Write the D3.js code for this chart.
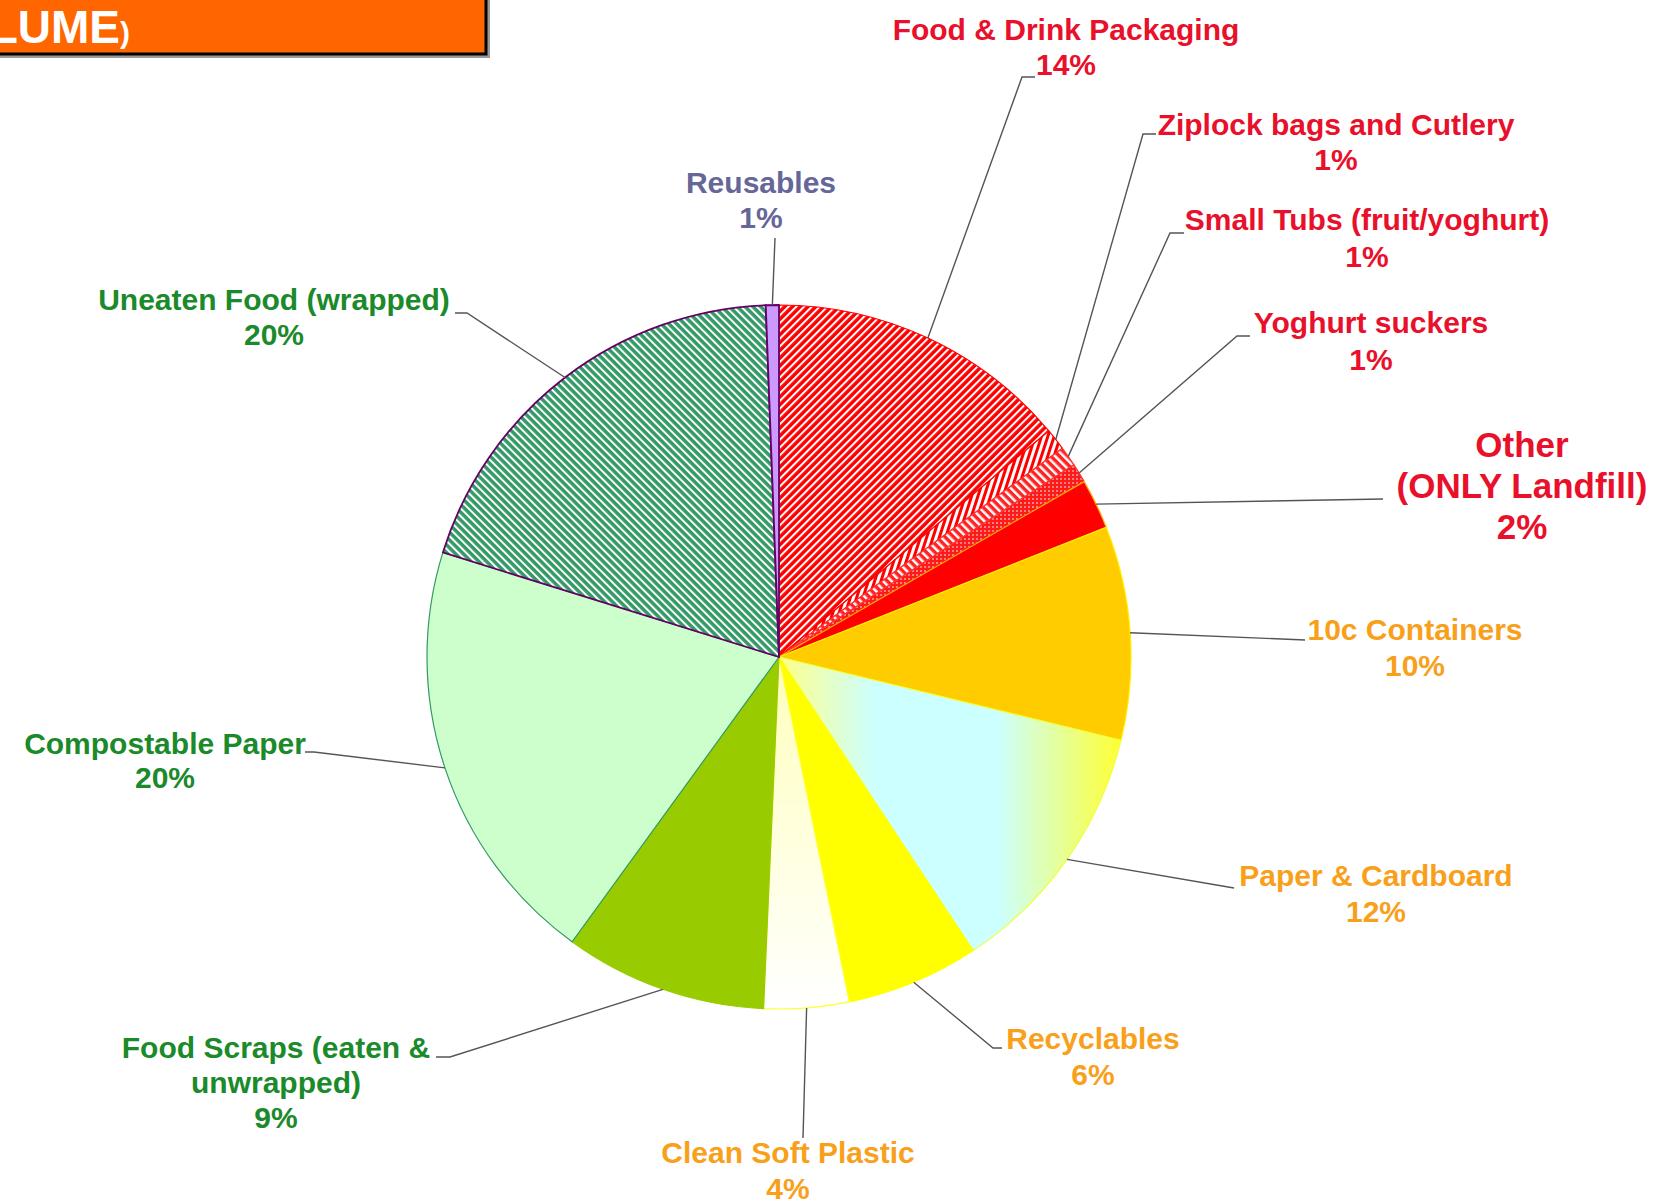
<!DOCTYPE html>
<html>
<head>
<meta charset="utf-8">
<script src="https://cdn.jsdelivr.net/npm/d3@7"></script>
<style>
	body { margin: 0; background: white; }
	text { font-family: "Liberation Sans", Arial, sans-serif; font-weight: bold; }
</style>
</head>
<body>
<div id="viz"></div>
<script>

// Data
var categories = [
	"Food & Drink Packaging",
	"Ziplock bags and Cutlery",
	"Small Tubs (fruit/yoghurt)",
	"Yoghurt suckers",
	"Other\n(ONLY Landfill)",
	"10c Containers",
	"Paper & Cardboard",
	"Recyclables",
	"Clean Soft Plastic",
	"Food Scraps (eaten &\nunwrapped)",
	"Compostable Paper",
	"Uneaten Food (wrapped)",
	"Reusables"
];
var values = [13.9, 1.0, 0.9, 0.9, 2.3, 9.8, 11.9, 6.1, 3.9, 9.3, 19.8, 19.6, 0.6];
var groups = ["landfill", "landfill", "landfill", "landfill", "landfill",
	"recycle", "recycle", "recycle", "recycle",
	"compost", "compost", "compost", "reuse"];
var titleText = "LUME";

// Styles
var textColors = {landfill: "#e8102a", recycle: "#f9a01b", compost: "#1a8a2a", reuse: "#666699"};
var sliceFills = ["url(#hatchRed)", "url(#hatchZip)", "url(#hatchTubs)", "url(#dotsRed)", "#ff0000",
	"#ffcc00", "url(#gradPaper)", "#ffff00", "url(#gradSoft)",
	"#99cc00", "#ccffcc", "url(#hatchGreen)", "#cc99ff"];
var sliceStrokes = ["#ff0000", "#ff0000", "#ff3333", "#ff3333", "#ffaa00",
	"#ffee00", "#eeff44", "#ffff00", "#ffff33",
	"#99cc00", "#339966", "#660066", "#660066"];

// Label layout: text centre x, first baseline y, line height, font size, leader path points
var labelLayout = [
	{x: 1066, y: 40, lh: 35, fs: 30, leader: [[1022, 77], [1035, 77]]},
	{x: 1336, y: 135, lh: 35, fs: 30, leader: [[1143, 134], [1156, 134]]},
	{x: 1367, y: 230, lh: 37, fs: 30, leader: [[1170, 233], [1184, 233]]},
	{x: 1371, y: 333, lh: 37, fs: 30, leader: [[1237, 336], [1250, 336]]},
	{x: 1522, y: 457, lh: 41, fs: 35, leader: [[1383, 499]]},
	{x: 1415, y: 640, lh: 36, fs: 30, leader: [[1305, 640]]},
	{x: 1376, y: 886, lh: 36, fs: 30, leader: [[1234, 888]]},
	{x: 1093, y: 1049, lh: 36, fs: 30, leader: [[993, 1048], [1002, 1048]]},
	{x: 788, y: 1163, lh: 36, fs: 30, leader: [[803, 1138]]},
	{x: 276, y: 1058, lh: 35, fs: 30, leader: [[450, 1057], [436, 1057]]},
	{x: 165, y: 754, lh: 34, fs: 30, leader: [[314, 752], [305, 752]]},
	{x: 274, y: 310, lh: 35, fs: 30, leader: [[467, 313], [455, 313]]},
	{x: 761, y: 193, lh: 35, fs: 30, leader: [[775, 238]]}
];

var width = 1657,
	height = 1202,
	cx = 779,
	cy = 657,
	radius = 352;

var svg = d3.select("#viz")
	.append("svg")
	.attr("width", width)
	.attr("height", height)
	.style("background-color", "white");

var defs = svg.append("defs");

// Stripe pattern helper
var stripes = (id, bg, fg, size, line, angle) => {
	var p = defs.append("pattern")
		.attr("id", id)
		.attr("patternUnits", "userSpaceOnUse")
		.attr("width", size)
		.attr("height", size)
		.attr("patternTransform", `rotate(${angle})`);
	p.append("rect").attr("width", size).attr("height", size).attr("fill", bg);
	p.append("rect").attr("width", line).attr("height", size).attr("fill", fg);
};
stripes("hatchRed", "#ff0000", "#ffffff", 5.5, 2, 45);
stripes("hatchGreen", "#339966", "#ffffff", 5.5, 2, -45);
stripes("hatchZip", "#ffffff", "#ff0000", 6, 3, 18);
stripes("hatchTubs", "#ff2222", "#ffffff", 6, 2.5, -45);

var dots = defs.append("pattern")
	.attr("id", "dotsRed")
	.attr("patternUnits", "userSpaceOnUse")
	.attr("width", 4)
	.attr("height", 4);
dots.append("rect").attr("width", 4).attr("height", 4).attr("fill", "#ff1a1a");
dots.append("circle").attr("cx", 2).attr("cy", 2).attr("r", 0.9).attr("fill", "#ffb0b0");

var gPaper = defs.append("linearGradient")
	.attr("id", "gradPaper")
	.attr("x1", 0).attr("y1", 0).attr("x2", 1).attr("y2", 0);
[[0, "#ffff88"], [0.28, "#ccffff"], [0.64, "#ccffff"], [1, "#ffff33"]].forEach(s =>
	gPaper.append("stop").attr("offset", s[0]).attr("stop-color", s[1]));

var gSoft = defs.append("linearGradient")
	.attr("id", "gradSoft")
	.attr("x1", 0).attr("y1", 0).attr("x2", 0).attr("y2", 1);
[[0, "#ffffbb"], [1, "#ffffff"]].forEach(s =>
	gSoft.append("stop").attr("offset", s[0]).attr("stop-color", s[1]));

// Title box (cut off at the left edge)
svg.append("rect")
	.attr("x", -10)
	.attr("y", -10)
	.attr("width", 500)
	.attr("height", 68)
	.attr("fill", "#999999");
svg.append("rect")
	.attr("x", -10)
	.attr("y", -10)
	.attr("width", 496)
	.attr("height", 64)
	.attr("fill", "#ff6600")
	.attr("stroke", "black")
	.attr("stroke-width", 3);
var title = svg.append("text")
	.attr("x", 130)
	.attr("y", 43)
	.attr("text-anchor", "end")
	.attr("fill", "white");
title.append("tspan").style("font-size", "46px").text(titleText);
title.append("tspan").style("font-size", "30px").text(")");

// Pie
var pie = d3.pie().sort(null).value(d => d.value);
var arcs = pie(values.map((v, i) => ({value: v, i: i})));
var arc = d3.arc().innerRadius(0).outerRadius(radius);

var g = svg.append("g").attr("transform", `translate(${cx}, ${cy})`);

g.selectAll(".slice")
	.data(arcs)
	.enter()
	.append("path")
	.attr("class", "slice")
	.attr("d", arc)
	.attr("fill", d => sliceFills[d.index])
	.attr("stroke", d => sliceStrokes[d.index])
	.attr("stroke-width", d => d.index >= 11 ? 1.8 : 1.2)
	.attr("stroke-linejoin", "round");

// Leader lines
var edgePoint = d => {
	var a = (d.startAngle + d.endAngle) / 2;
	return [cx + radius * Math.sin(a), cy - radius * Math.cos(a)];
};
svg.selectAll(".leader")
	.data(arcs)
	.enter()
	.append("path")
	.attr("class", "leader")
	.attr("d", d => d3.line()([edgePoint(d)].concat(labelLayout[d.index].leader)))
	.attr("fill", "none")
	.attr("stroke", "#555555")
	.attr("stroke-width", 1.4);

// Labels
var labels = svg.selectAll(".label")
	.data(arcs)
	.enter()
	.append("text")
	.attr("class", "label")
	.attr("text-anchor", "middle")
	.attr("fill", d => textColors[groups[d.index]])
	.style("font-size", d => labelLayout[d.index].fs + "px");

labels.each(function(d) {
	var lay = labelLayout[d.index];
	var lines = categories[d.index].split("\n").concat([Math.round(d.data.value) + "%"]);
	d3.select(this).selectAll("tspan")
		.data(lines)
		.enter()
		.append("tspan")
		.attr("x", lay.x)
		.attr("y", (l, k) => lay.y + k * lay.lh)
		.text(l => l);
});

</script>
</body>
</html>
